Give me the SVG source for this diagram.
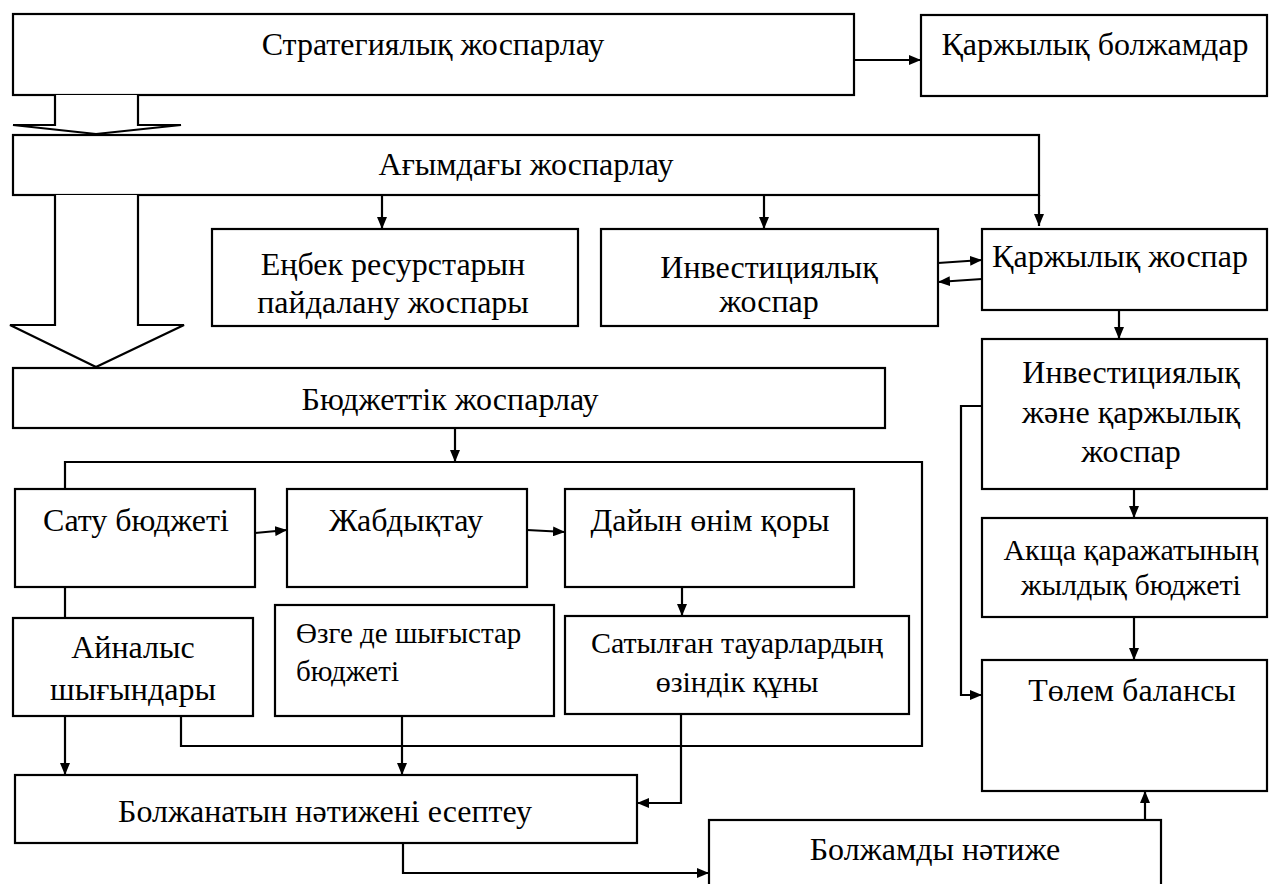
<svg xmlns="http://www.w3.org/2000/svg" width="1271" height="884" viewBox="0 0 1271 884">
<style>
.box{fill:#fff;stroke:#000;stroke-width:2.2}
.ln{fill:none;stroke:#000;stroke-width:2.2}
.ar{fill:none;stroke:#000;stroke-width:2.2;marker-end:url(#ah)}
.big{fill:#fff;stroke:#000;stroke-width:2.2}
text{font-family:'Liberation Serif','DejaVu Serif','Noto Serif',serif;font-size:32px;fill:#000;text-anchor:middle}
.s30{font-size:30px}
.s29{font-size:29px;text-anchor:start}
</style>
<defs>
<marker id="ah" viewBox="0 0 12 10" refX="12" refY="5" markerWidth="12" markerHeight="10" markerUnits="userSpaceOnUse" orient="auto">
<path d="M0,0 L12,5 L0,10 z" fill="#000"/>
</marker>
</defs>
<rect width="1271" height="884" fill="#fff"/>

<g id="strategic"><rect class="box" x="13" y="14" width="841" height="81"/><text x="433" y="55">Стратегиялық жоспарлау</text></g>
<g id="fin-forecast"><rect class="box" x="921" y="15" width="346" height="81"/><text x="1095" y="55">Қаржылық болжамдар</text></g>
<g id="current"><rect class="box" x="13" y="135" width="1026" height="60"/><text x="526" y="175">Ағымдағы жоспарлау</text></g>
<g id="labour"><rect class="box" x="212" y="229" width="366" height="97"/><text x="393" y="275">Еңбек ресурстарын</text><text x="393" y="313">пайдалану жоспары</text></g>
<g id="invest"><rect class="box" x="601" y="229" width="337" height="97"/><text x="769" y="278">Инвестициялық</text><text x="769" y="312">жоспар</text></g>
<g id="fin-plan"><rect class="box" x="982" y="229" width="285" height="81"/><text x="1120" y="267">Қаржылық жоспар</text></g>
<g id="budget"><rect class="box" x="13" y="368" width="872" height="60"/><text x="450" y="410">Бюджеттік жоспарлау</text></g>
<g id="inv-fin"><rect class="box" x="982" y="339" width="285" height="150"/><text x="1131" y="383">Инвестициялық</text><text x="1131" y="423">және қаржылық</text><text x="1131" y="462">жоспар</text></g>
<g id="cash"><rect class="box" x="982" y="518" width="285" height="99"/><text class="s30" x="1131" y="560">Акща қаражатының</text><text class="s30" x="1131" y="595">жылдық бюджеті</text></g>
<g id="balance"><rect class="box" x="982" y="660" width="285" height="131"/><text x="1132" y="701">Төлем балансы</text></g>
<g id="sales"><rect class="box" x="15" y="489" width="240" height="98"/><text x="136" y="531">Сату бюджеті</text></g>
<g id="supply"><rect class="box" x="287" y="489" width="240" height="98"/><text x="406" y="531">Жабдықтау</text></g>
<g id="stock"><rect class="box" x="565" y="489" width="289" height="98"/><text x="710" y="531">Дайын өнім қоры</text></g>
<g id="circulation"><rect class="box" x="13" y="618" width="240" height="98"/><text x="133" y="658">Айналыс</text><text x="133" y="700">шығындары</text></g>
<g id="other"><rect class="box" x="275" y="605" width="279" height="111"/><text class="s29" x="296" y="643">Өзге де шығыстар</text><text class="s29" x="296" y="681">бюджеті</text></g>
<g id="cost"><rect class="box" x="565" y="616" width="344" height="98"/><text class="s30" x="737" y="653">Сатылған тауарлардың</text><text class="s30" x="737" y="692">өзіндік құны</text></g>
<g id="calc"><rect class="box" x="15" y="775" width="622" height="68"/><text x="325" y="822">Болжанатын нәтижені есептеу</text></g>
<g id="result"><rect class="box" x="709" y="820" width="452" height="80"/><text x="935" y="860">Болжамды нәтиже</text></g>

<g id="connectors">
<polyline class="big" points="55,95 55,125 13,125 96,134 181,125 138,125 138,95"/>
<polyline class="big" points="55,195 55,325 10,325 96,367 184,325 138,325 138,195"/>
<line class="ar" x1="854" y1="60" x2="921" y2="60"/>
<line class="ar" x1="382" y1="196" x2="382" y2="229"/>
<line class="ar" x1="764" y1="196" x2="764" y2="229"/>
<line class="ar" x1="1039" y1="195" x2="1039" y2="226"/>
<line class="ar" x1="938" y1="263" x2="982" y2="260"/>
<line class="ar" x1="982" y1="279" x2="938" y2="282"/>
<line class="ar" x1="1119" y1="310" x2="1119" y2="339"/>
<line class="ar" x1="1134" y1="489" x2="1134" y2="518"/>
<line class="ar" x1="1134" y1="617" x2="1134" y2="660"/>
<polyline class="ar" points="982,406 961,406 961,695 982,695"/>
<line class="ar" x1="455" y1="428" x2="455" y2="462"/>
<polyline class="ln" points="65,489 65,462 922,462 922,746 181,746 181,716"/>
<line class="ln" x1="65" y1="587" x2="65" y2="618"/>
<line class="ar" x1="65" y1="716" x2="65" y2="775"/>
<line class="ar" x1="402" y1="716" x2="402" y2="775"/>
<line class="ar" x1="255" y1="533" x2="287" y2="530"/>
<line class="ar" x1="527" y1="530" x2="565" y2="532"/>
<line class="ar" x1="682" y1="587" x2="682" y2="616"/>
<polyline class="ar" points="681,714 681,803 637,803"/>
<polyline class="ar" points="403,843 403,873 709,873"/>
<line class="ar" x1="1145" y1="820" x2="1145" y2="791"/>
</g>
</svg>
